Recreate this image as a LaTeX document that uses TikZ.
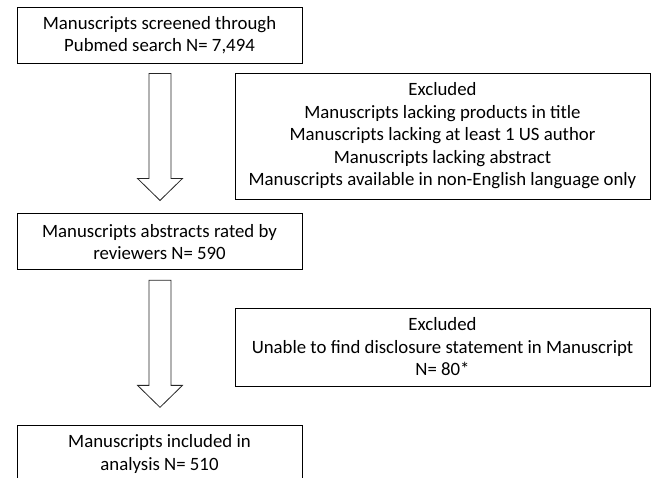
\documentclass[tikz,border=0pt]{standalone}
\usepackage{fontspec}
\setmainfont{Carlito}
\usetikzlibrary{positioning,calc}
\tikzset{
  box/.style    ={draw=black, line width=.9pt, align=center, inner sep=2pt,
                  font=\fontsize{18.8}{22.5}\selectfont, text=black},
  stagebox/.style={box, minimum width=285pt, minimum height=56pt},
  exbox/.style  ={box, minimum width=415pt},
  hollow/.style ={draw=black!85, line width=.8pt, fill=white, line join=miter},
}

\begin{document}
\begin{tikzpicture}[x=1pt,y=-1pt]
  \clip (0,0) rectangle (653,478);
  \node[stagebox](scr) at (159.5,35){Manuscripts screened through\\Pubmed search N= 7,494};
  \node[stagebox, below=150pt of scr](rat){Manuscripts abstracts rated by\\reviewers N= 590};
  \node[stagebox, below=155pt of rat](inc){Manuscripts included in\\analysis N= 510};
  % excluded boxes on the right
  \node[exbox, minimum height=126pt](ex1) at (442.5,136){Excluded\\Manuscripts lacking products in title\\Manuscripts lacking at least 1 US author\\Manuscripts lacking abstract\\Manuscripts available in non-English language only};
  \node[exbox, minimum height=78pt](ex2) at (442.5,347){Excluded\\Unable to find disclosure statement in Manuscript\\N= 80*};
  % hollow block arrows between the stages
  \coordinate (a1s) at ($(scr.south)+(0.5,10)$);
  \coordinate (a1e) at ($(rat.north)+(0.5,-13)$);
  \coordinate (a2s) at ($(rat.south)+(0.5,10)$);
  \coordinate (a2e) at ($(inc.north)+(0.5,-18)$);
  \draw[hollow] ($(a1s)+(-11,0)$) -- ($(a1s)+(11,0)$) -- ($(a1e)+(11,-22)$) -- ($(a1e)+(22.5,-22)$)
        -- (a1e) -- ($(a1e)+(-22.5,-22)$) -- ($(a1e)+(-11,-22)$) -- cycle;
  \draw[hollow] ($(a2s)+(-11,0)$) -- ($(a2s)+(11,0)$) -- ($(a2e)+(11,-22)$) -- ($(a2e)+(22.5,-22)$)
        -- (a2e) -- ($(a2e)+(-22.5,-22)$) -- ($(a2e)+(-11,-22)$) -- cycle;
\end{tikzpicture}
\end{document}
